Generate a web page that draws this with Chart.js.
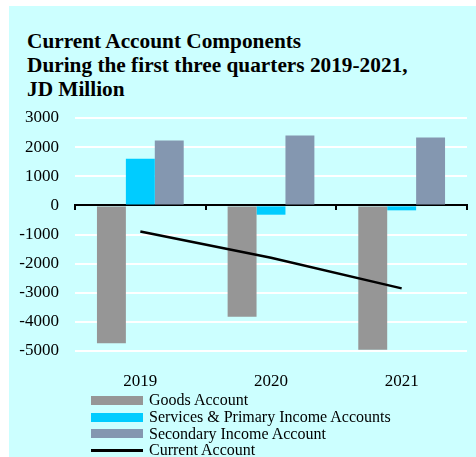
<!DOCTYPE html>
<html>
<head>
<meta charset="utf-8">
<script src="https://cdn.jsdelivr.net/npm/chart.js@4/dist/chart.umd.min.js"></script>
<style>
  html, body { margin: 0; padding: 0; background: #ffffff; }
  #wrap { position: relative; width: 476px; height: 457px; overflow: hidden; }
  #panel { position: absolute; left: 9px; top: 6px; width: 467px; height: 451px; background: #CCFFFF; }
  #title { position: absolute; left: 27px; top: 29px; margin: 0;
           font: bold 21.3px "Liberation Serif", "Times New Roman", serif; line-height: 24px; color: #000; }
  #chart { position: absolute; left: 0; top: 0; }
  #legend { position: absolute; left: 91px; top: 392px; font: 16px "Liberation Serif", "Times New Roman", serif; color: #000; }
  .item { height: 16.7px; display: flex; align-items: center; white-space: nowrap; }
  .swatch { width: 52px; margin-right: 6px; }
</style>
</head>
<body>
<div id="wrap">
  <div id="panel"></div>
  <div id="title">Current Account Components<br>During the first three quarters 2019-2021,<br>JD Million</div>
  <canvas id="chart" width="476" height="457"></canvas>
  <div id="legend"></div>
</div>
<script>
// Years on the category axis
const categories = ['2019', '2020', '2021'];

// Components, JD million
const goodsAccount = [-4730, -3820, -4960];
const servicesPrimaryIncome = [1600, -320, -170];
const secondaryIncome = [2230, 2400, 2330];
const currentAccount = [-900, -1800, -2850];

// Series names and colours
const seriesNames = ['Goods Account', 'Services & Primary Income Accounts', 'Secondary Income Account', 'Current Account'];
const seriesColors = ['#969696', '#00CCFF', '#8497B0', '#000000'];

// Value axis
const yMin = -5000;
const yMax = 3000;
const yStep = 1000;

const serif = '"Liberation Serif", "Times New Roman", serif';

const chart = new Chart(document.getElementById('chart'), {
  type: 'bar',
  data: {
    labels: categories,
    datasets: [
      { label: seriesNames[0], data: goodsAccount, backgroundColor: seriesColors[0], order: 1 },
      { label: seriesNames[1], data: servicesPrimaryIncome, backgroundColor: seriesColors[1], order: 1 },
      { label: seriesNames[2], data: secondaryIncome, backgroundColor: seriesColors[2], order: 1 },
      { type: 'line', label: seriesNames[3], data: currentAccount, borderColor: seriesColors[3],
        borderWidth: 2.5, pointRadius: 0, tension: 0, fill: false, order: 0 }
    ]
  },
  options: {
    responsive: false,
    animation: false,
    categoryPercentage: 0.664,
    barPercentage: 1.0,
    layout: { padding: { top: 118, right: 9, left: 0, bottom: 0 } },
    plugins: { legend: { display: false }, title: { display: false }, tooltip: { enabled: false } },
    scales: {
      x: {
        type: 'category',
        position: 'bottom',
        offset: true,
        grid: { display: false },
        border: { display: false },
        ticks: { color: '#000', font: { family: serif, size: 17 }, padding: 12, maxRotation: 0 },
        afterFit: (s) => { s.height = 106; }
      },
      x2: {
        type: 'category',
        axis: 'x',
        labels: categories,
        position: { y: 0 },
        offset: true,
        z: 1,
        grid: { offset: true, drawOnChartArea: false, drawTicks: true, tickLength: 4, color: '#000', lineWidth: 2 },
        border: { display: true, color: '#000', width: 2 },
        ticks: { display: false }
      },
      y: {
        min: yMin,
        max: yMax,
        ticks: { stepSize: yStep, color: '#000', font: { family: serif, size: 17 }, padding: 16,
                 callback: (v) => String(v) },
        grid: { color: '#ffffff', lineWidth: 2, drawTicks: false },
        border: { display: false },
        afterFit: (s) => { s.width = 75; }
      }
    }
  }
});

// Legend listed one series per row under the plot
const legend = document.getElementById('legend');
chart.data.datasets.forEach((ds) => {
  const row = document.createElement('div');
  row.className = 'item';
  const sw = document.createElement('span');
  sw.className = 'swatch';
  if (ds.type === 'line') {
    sw.style.height = '3px';
    sw.style.background = ds.borderColor;
  } else {
    sw.style.height = '9px';
    sw.style.background = ds.backgroundColor;
  }
  const tx = document.createElement('span');
  tx.textContent = ds.label;
  row.appendChild(sw);
  row.appendChild(tx);
  legend.appendChild(row);
});
</script>
</body>
</html>
